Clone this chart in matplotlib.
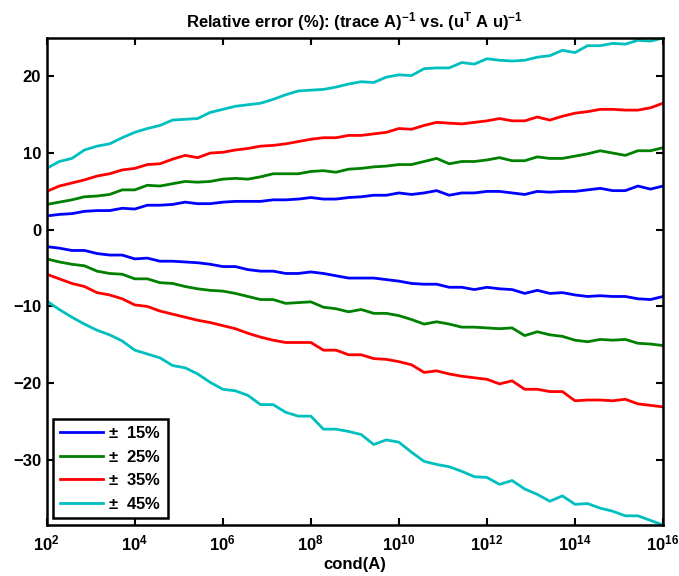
import numpy as np
import matplotlib
matplotlib.use("Agg")
import matplotlib.pyplot as plt
from matplotlib.ticker import NullLocator, FixedLocator

plt.rcParams['font.family'] = ['Liberation Sans', 'DejaVu Sans']
plt.rcParams['font.weight'] = 'bold'
plt.rcParams['mathtext.fontset'] = 'custom'
plt.rcParams['mathtext.rm'] = 'Liberation Sans'
plt.rcParams['mathtext.bf'] = 'Liberation Sans:bold'
plt.rcParams['mathtext.it'] = 'Liberation Sans:italic'

# condition numbers, 50 points from 1e2 to 1e16
cond = np.logspace(2, 16, 50)

labels = ['15%', '25%', '35%', '45%']
colors = ['#0000ff', '#008000', '#ff0000', '#00bfbf']

# upper curves (+ perturbation)
up_15 = [1.8, 2.0, 2.1, 2.4, 2.5, 2.5, 2.8, 2.7, 3.2, 3.2,
         3.3, 3.6, 3.4, 3.4, 3.6, 3.7, 3.7, 3.7, 3.9, 3.9,
         4.0, 4.2, 4.0, 4.0, 4.2, 4.3, 4.5, 4.5, 4.8, 4.6,
         4.8, 5.1, 4.5, 4.8, 4.8, 5.0, 5.0, 4.8, 4.6, 5.0,
         4.9, 5.0, 5.0, 5.2, 5.4, 5.1, 5.1, 5.7, 5.3, 5.7]
up_25 = [3.3, 3.6, 3.9, 4.3, 4.4, 4.6, 5.2, 5.2, 5.8, 5.7,
         6.0, 6.3, 6.2, 6.3, 6.6, 6.7, 6.6, 6.9, 7.3, 7.3,
         7.3, 7.6, 7.7, 7.5, 7.9, 8.0, 8.2, 8.3, 8.5, 8.5,
         8.9, 9.3, 8.6, 8.9, 8.9, 9.1, 9.4, 9.0, 9.0, 9.5,
         9.3, 9.3, 9.6, 9.9, 10.3, 10.0, 9.7, 10.3, 10.3, 10.7]
up_35 = [5.0, 5.7, 6.1, 6.5, 7.0, 7.3, 7.8, 8.0, 8.5, 8.6,
         9.2, 9.7, 9.4, 10.0, 10.1, 10.4, 10.6, 10.9, 11.0, 11.2,
         11.5, 11.8, 12.0, 12.0, 12.3, 12.3, 12.5, 12.7, 13.2, 13.1,
         13.6, 14.0, 13.9, 13.8, 14.0, 14.2, 14.5, 14.2, 14.2, 14.7,
         14.3, 14.8, 15.2, 15.4, 15.7, 15.7, 15.6, 15.6, 15.9, 16.5]
up_45 = [8.0, 8.9, 9.3, 10.4, 10.9, 11.2, 12.0, 12.7, 13.2, 13.6,
         14.3, 14.4, 14.5, 15.3, 15.7, 16.1, 16.3, 16.5, 17.0, 17.6,
         18.1, 18.2, 18.3, 18.6, 19.0, 19.3, 19.2, 19.9, 20.2, 20.1,
         21.0, 21.1, 21.1, 21.8, 21.6, 22.3, 22.1, 22.0, 22.1, 22.5,
         22.7, 23.4, 23.1, 24.0, 24.0, 24.3, 24.2, 24.7, 24.6, 25.0]

# lower curves (- perturbation)
lo_15 = [-2.2, -2.4, -2.7, -2.7, -3.1, -3.3, -3.3, -3.8, -3.7, -4.1,
         -4.1, -4.2, -4.3, -4.5, -4.8, -4.8, -5.2, -5.4, -5.4, -5.7,
         -5.7, -5.5, -5.7, -6.0, -6.3, -6.3, -6.3, -6.5, -6.7, -7.0,
         -7.1, -7.1, -7.5, -7.5, -7.8, -7.5, -7.7, -7.8, -8.3, -7.9,
         -8.3, -8.2, -8.5, -8.7, -8.6, -8.7, -8.7, -9.0, -9.1, -8.7]
lo_25 = [-3.8, -4.2, -4.5, -4.7, -5.4, -5.7, -5.8, -6.4, -6.4, -6.9,
         -7.0, -7.4, -7.7, -7.9, -8.0, -8.3, -8.7, -9.1, -9.1, -9.6,
         -9.5, -9.4, -10.1, -10.3, -10.7, -10.4, -10.9, -10.9, -11.2, -11.7,
         -12.3, -12.0, -12.3, -12.7, -12.7, -12.8, -12.9, -12.8, -13.8, -13.3,
         -13.7, -13.9, -14.4, -14.6, -14.3, -14.4, -14.3, -14.8, -14.9, -15.1]
lo_35 = [-5.8, -6.4, -7.0, -7.4, -8.2, -8.5, -9.0, -9.8, -10.0, -10.6,
         -11.0, -11.4, -11.8, -12.1, -12.5, -12.9, -13.5, -14.0, -14.4, -14.7,
         -14.7, -14.7, -15.7, -15.7, -16.3, -16.3, -16.8, -16.9, -17.2, -17.6,
         -18.6, -18.4, -18.8, -19.1, -19.3, -19.5, -20.1, -19.7, -20.8, -20.8,
         -21.1, -21.1, -22.3, -22.2, -22.2, -22.3, -22.1, -22.7, -22.9, -23.1]
lo_45 = [-9.3, -10.4, -11.4, -12.3, -13.1, -13.7, -14.5, -15.7, -16.2, -16.7,
         -17.7, -18.0, -18.8, -19.9, -20.8, -21.0, -21.6, -22.8, -22.8, -23.8,
         -24.3, -24.3, -26.0, -26.0, -26.3, -26.7, -28.0, -27.4, -27.7, -29.0,
         -30.2, -30.6, -30.9, -31.5, -32.2, -32.3, -33.2, -32.7, -33.8, -34.5,
         -35.4, -34.7, -35.8, -35.7, -36.3, -36.7, -37.3, -37.3, -37.9, -38.5]

upper = [up_15, up_25, up_35, up_45]
lower = [lo_15, lo_25, lo_35, lo_45]

fig = plt.figure(figsize=(6.79, 5.76), dpi=100)
ax = fig.add_axes([0.0688, 0.0885, 0.9077, 0.8455])

for up, lo, c, lab in zip(upper, lower, colors, labels):
    ax.plot(cond, up, color=c, lw=2, label=r'$\pm$  ' + lab)
    ax.plot(cond, lo, color=c, lw=2)

ax.set_xscale('log')
ax.set_xlim(1e2, 1e16)
ax.set_ylim(-38.5, 25)

xt = [10.0 ** k for k in range(2, 17, 2)]
ax.xaxis.set_major_locator(FixedLocator(xt))
ax.xaxis.set_minor_locator(NullLocator())
ax.set_xticklabels([r'$\mathbf{10^{%d}}$' % k for k in range(2, 17, 2)])
ax.set_yticks([-30, -20, -10, 0, 10, 20])

ax.tick_params(direction='in', top=True, right=True, length=5, width=1.5,
               labelsize=12)
ax.tick_params(axis='y', pad=4)
ax.tick_params(axis='x', pad=6)
for s in ax.spines.values():
    s.set_linewidth(1.8)

ax.set_title(r'Relative error (%): (trace A)$^{\mathbf{-1}}$ vs. (u$^{\mathbf{T}}$ A u)$^{\mathbf{-1}}$',
             fontsize=12, fontweight='bold', pad=8)
ax.set_xlabel('cond(A)', fontsize=12, fontweight='bold', labelpad=3)

leg = ax.legend(loc='lower left', fontsize=12, fancybox=False, framealpha=1,
                edgecolor='black', handlelength=2.6, handletextpad=0.3,
                borderaxespad=0.4, labelspacing=0.45, borderpad=0.4)
leg.get_frame().set_linewidth(1.8)

fig.savefig('out.png', dpi=100)
